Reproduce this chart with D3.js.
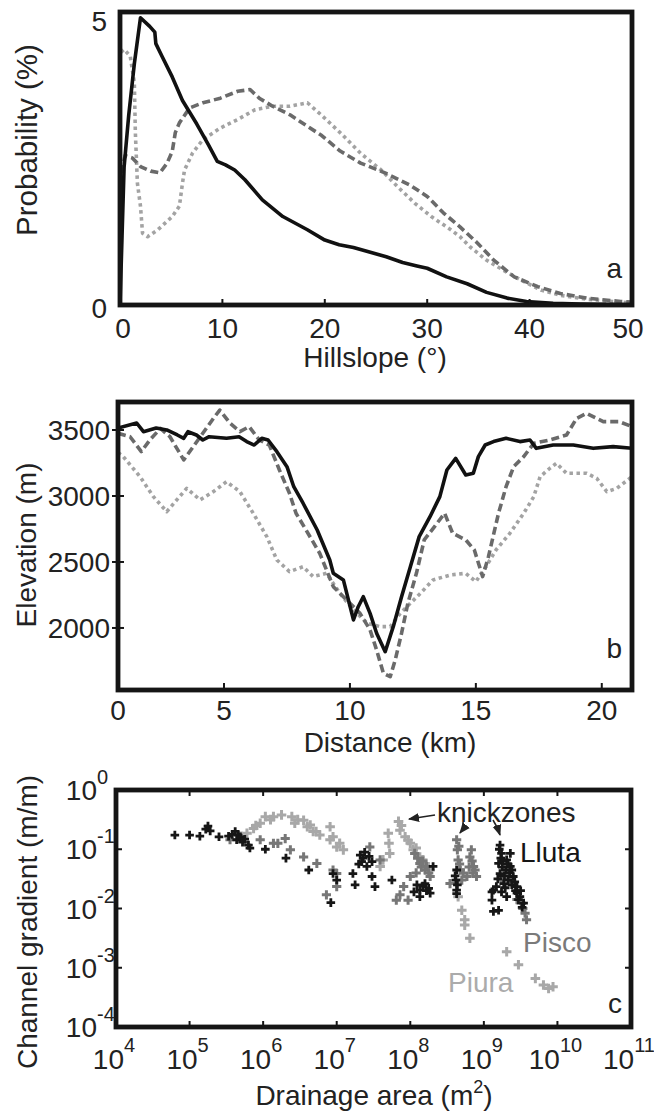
<!DOCTYPE html>
<html><head><meta charset="utf-8">
<script src="https://cdn.jsdelivr.net/npm/d3@7"></script>
<style>
body{margin:0;background:#fff}
svg{display:block}
text{font-family:"Liberation Sans",Arial,Helvetica,sans-serif;fill:#222}
</style>
</head><body>
<svg id="chart" width="654" height="1117"></svg>
<script>
// ---------- Panel a: hillslope distributions ----------
const hillTicks = [0, 10, 20, 30, 40, 50];
const probTicks = [0, 5];
const hillSolid = [[0,0],[0.2,1.2],[0.4,2.4],[0.85,3.3],[1.4,4.2],[2.0,5.0],[2.9,4.85],[3.4,4.75],[3.5,4.55],[4.1,4.33],[5.1,3.97],[6.1,3.56],[7.5,3.15],[8.6,2.8],[9.5,2.5],[10.3,2.44],[11.2,2.35],[12.2,2.18],[13.9,1.83],[15.9,1.54],[18.3,1.31],[20,1.13],[21.4,1.05],[22.8,1.0],[26,0.84],[27.6,0.74],[29,0.68],[30,0.64],[31.9,0.49],[33.9,0.37],[35.8,0.22],[37.8,0.12],[39.7,0.06],[42.3,0.03],[45,0.015],[50,0.005]];
const hillDashed = [[0.1,2.3],[0.5,2.6],[1.2,2.56],[2,2.41],[3,2.33],[3.9,2.3],[4.6,2.47],[5.1,2.67],[5.4,3.0],[5.8,3.17],[6.8,3.43],[8.1,3.52],[9.8,3.6],[11.5,3.72],[12.7,3.75],[13.6,3.6],[14.9,3.46],[16.6,3.31],[18.3,3.11],[19.7,2.95],[21.5,2.68],[23.5,2.47],[26,2.29],[28.3,2.09],[30,1.89],[31.6,1.6],[33.2,1.36],[34.9,1.08],[36.5,0.78],[38.5,0.49],[40.8,0.32],[43,0.2],[45.6,0.12],[48.9,0.06],[50,0.05]];
const hillDotted = [[0.1,4.4],[0.4,4.45],[1,4.33],[1.4,3.87],[1.5,3.0],[1.7,2.12],[2,1.72],[2.2,1.25],[2.7,1.19],[3.7,1.31],[5.1,1.54],[5.8,1.72],[6.1,2.12],[6.3,2.35],[7.1,2.65],[8.1,2.88],[9.8,3.08],[11.5,3.23],[13.2,3.4],[14.9,3.46],[16.6,3.46],[18.3,3.52],[19.7,3.3],[21.5,3.0],[23.5,2.64],[25.5,2.35],[27.1,2.06],[28.8,1.77],[30.4,1.54],[32.3,1.31],[33.2,1.19],[34.2,1.01],[35.8,0.78],[37.4,0.61],[39.1,0.44],[41.1,0.26],[43,0.17],[45.6,0.1],[48.9,0.05],[50,0.04]];

// ---------- Panel b: elevation profiles ----------
const distTicks = [0, 5, 10, 15, 20];
const elevTicks = [2000, 2500, 3000, 3500];
const profSolid = [[0,3515],[0.88,3553],[1.2,3487],[1.8,3515],[2.3,3500],[2.8,3462],[3.1,3437],[3.3,3487],[3.7,3462],[4.0,3424],[4.3,3449],[5.1,3437],[5.6,3449],[5.9,3412],[6.2,3386],[6.5,3437],[6.75,3424],[7.1,3336],[7.5,3222],[7.77,3070],[8.14,2945],[8.7,2742],[9.2,2515],[9.34,2414],[9.74,2364],[10.14,2061],[10.33,2161],[10.53,2237],[10.8,2111],[11.06,1960],[11.4,1820],[11.72,2010],[12.05,2237],[12.4,2464],[12.75,2692],[13.18,2843],[13.57,2995],[13.85,3197],[14.2,3285],[14.6,3159],[14.9,3172],[15.1,3298],[15.37,3386],[15.7,3412],[16.2,3437],[16.75,3412],[17.15,3424],[17.4,3361],[18.07,3386],[18.87,3386],[19.66,3361],[20.45,3374],[21.2,3361]];
const profDashed = [[0,3475],[0.57,3449],[1.1,3336],[1.5,3424],[2.0,3512],[2.45,3449],[3.1,3273],[3.55,3374],[4.0,3475],[4.5,3588],[4.8,3651],[5.24,3551],[5.63,3487],[6.0,3525],[6.4,3424],[6.8,3386],[7.2,3197],[7.6,3020],[7.86,2869],[8.26,2742],[8.8,2566],[9.34,2313],[9.87,2212],[10.4,2111],[10.8,1985],[11.06,1833],[11.33,1657],[11.6,1631],[11.8,1758],[12.05,1960],[12.3,2187],[12.64,2414],[12.95,2667],[13.36,2768],[13.76,2869],[14.08,2717],[14.6,2667],[14.94,2591],[15.27,2389],[15.5,2540],[15.9,2869],[16.2,3070],[16.5,3222],[16.9,3298],[17.3,3399],[17.94,3424],[18.6,3462],[19.0,3588],[19.4,3626],[20.06,3563],[20.7,3563],[21.2,3525]];
const profDotted = [[0,3330],[0.25,3298],[1.04,3146],[1.67,2995],[2.3,2881],[2.77,2970],[3.24,3058],[3.87,2970],[4.5,3033],[5.1,3108],[5.63,3033],[6.16,2869],[6.7,2692],[7.1,2515],[7.6,2427],[8.14,2464],[8.54,2389],[9.07,2414],[9.6,2263],[10.14,2136],[10.7,2035],[11.2,2010],[11.6,2010],[12.0,2111],[12.4,2187],[12.8,2263],[13.3,2364],[14.0,2402],[14.6,2414],[15.0,2351],[15.4,2464],[15.8,2591],[16.35,2717],[16.9,2869],[17.3,2995],[17.55,3146],[17.94,3210],[18.2,3248],[18.6,3172],[19.4,3172],[19.8,3134],[20.2,3033],[20.6,3058],[21.2,3146]];

// ---------- Panel c: slope-area (log10 area, log10 gradient) ----------
const areaExp = [4, 5, 6, 7, 8, 9, 10, 11];
const gradExp = [0, -1, -2, -3, -4];
const piuraPts = [[5.7,-0.78],[5.78,-0.73],[5.87,-0.65],[5.9,-0.6],[5.96,-0.56],[6.03,-0.45],[6.1,-0.5],[6.14,-0.45],[6.25,-0.42],[6.39,-0.45],[6.43,-0.56],[6.47,-0.5],[6.55,-0.51],[6.6,-0.62],[6.64,-0.59],[6.68,-0.70],[6.72,-0.7],[6.77,-0.76],[6.91,-0.62],[6.91,-0.84],[6.95,-0.79],[7.0,-0.96],[7.04,-0.9],[7.09,-1.01],[7.59,-1.29],[7.63,-1.18],[7.7,-0.73],[7.71,-0.9],[7.72,-1.07],[7.84,-0.53],[7.86,-0.68],[7.88,-0.6],[7.93,-0.79],[7.97,-0.85],[8.0,-0.9],[8.04,-1.01],[8.08,-0.98],[8.13,-1.13],[8.17,-1.18],[8.2,-1.24],[8.24,-1.3],[8.27,-1.35],[8.63,-1.58],[8.65,-1.8],[8.7,-2.03],[8.74,-2.19],[8.74,-2.28],[8.81,-2.5],[9.31,-2.73],[9.47,-2.95],[9.7,-3.18],[9.81,-3.29],[9.88,-3.35],[9.94,-3.32]];
const piscoPts = [[5.55,-0.84],[5.96,-0.84],[6.14,-0.9],[6.2,-0.9],[6.3,-0.82],[6.37,-1.01],[6.55,-1.13],[6.73,-1.24],[6.86,-1.77],[6.95,-1.35],[7.0,-1.41],[7.0,-1.63],[7.45,-0.96],[7.59,-1.18],[7.81,-1.86],[7.86,-1.77],[7.91,-1.63],[7.97,-1.86],[8.0,-1.46],[8.06,-1.07],[8.08,-1.4],[8.1,-1.15],[8.13,-1.24],[8.15,-1.3],[8.17,-1.2],[8.2,-1.35],[8.22,-1.29],[8.25,-1.4],[8.27,-1.46],[8.54,-1.58],[8.63,-0.84],[8.64,-1.01],[8.65,-1.18],[8.66,-0.95],[8.67,-1.25],[8.68,-1.35],[8.7,-1.52],[8.72,-1.4],[8.77,-1.46],[8.8,-1.3],[8.81,-1.13],[8.83,-1.01],[8.84,-1.2],[8.85,-1.4],[8.86,-1.29],[8.88,-1.35],[8.9,-1.46],[9.24,-1.52],[9.35,-1.5],[9.45,-1.85],[9.51,-1.91],[9.53,-2.0],[9.56,-2.08],[9.58,-2.19]];
const llutaPts = [[4.80,-0.76],[5.0,-0.76],[5.14,-0.78],[5.22,-0.66],[5.25,-0.61],[5.28,-0.69],[5.4,-0.79],[5.53,-0.78],[5.58,-0.75],[5.62,-0.70],[5.64,-0.84],[5.66,-0.76],[5.69,-0.79],[5.72,-0.88],[5.75,-0.83],[5.8,-0.93],[5.82,-0.98],[6.03,-1.0],[6.31,-1.15],[6.62,-1.35],[6.92,-1.9],[6.95,-1.41],[7.0,-1.52],[7.22,-1.41],[7.25,-1.6],[7.3,-1.25],[7.32,-1.1],[7.34,-1.21],[7.36,-1.15],[7.38,-1.05],[7.41,-1.29],[7.44,-1.12],[7.48,-1.21],[7.48,-1.46],[7.52,-1.63],[7.75,-1.52],[8.05,-1.72],[8.09,-1.6],[8.13,-1.69],[8.13,-1.8],[8.17,-1.62],[8.2,-1.58],[8.22,-1.7],[8.25,-1.66],[8.27,-1.74],[8.31,-1.29],[8.61,-1.45],[8.62,-1.52],[8.63,-1.35],[8.63,-1.69],[8.64,-1.6],[8.63,-1.75],[9.11,-1.72],[9.11,-1.86],[9.13,-1.69],[9.13,-2.05],[9.17,-1.63],[9.19,-1.5],[9.2,-1.24],[9.2,-2.03],[9.21,-1.0],[9.22,-0.93],[9.22,-1.41],[9.23,-1.15],[9.24,-1.07],[9.24,-1.72],[9.25,-1.3],[9.26,-1.2],[9.27,-1.58],[9.28,-1.45],[9.29,-1.65],[9.3,-1.35],[9.31,-1.18],[9.31,-1.8],[9.33,-1.25],[9.33,-1.52],[9.35,-1.4],[9.36,-1.07],[9.36,-1.29],[9.38,-1.35],[9.38,-1.6],[9.4,-1.46],[9.42,-1.55],[9.43,-1.7],[9.45,-1.63],[9.45,-1.74],[9.47,-1.85],[9.49,-1.8],[9.5,-1.7],[9.52,-1.98],[9.54,-1.91]];

const svg = d3.select("#chart");
const FS = 28;
const frameCol = "#151515";

function frame(x0, x1, y0, y1) {
  svg.append("rect").attr("x", x0).attr("y", y0).attr("width", x1 - x0).attr("height", y1 - y0)
    .attr("fill", "none").attr("stroke", frameCol).attr("stroke-width", 4.8);
}
function clip(id, x0, x1, y0, y1) {
  svg.append("clipPath").attr("id", id).append("rect")
    .attr("x", x0).attr("y", y0).attr("width", x1 - x0).attr("height", y1 - y0);
}
const styles = {
  solid: {stroke: "#111", dash: null, w: 3.6},
  dashed: {stroke: "#6a6a6a", dash: "8,4", w: 3.6},
  dotted: {stroke: "#a3a3a3", dash: "3.5,3.5", w: 3.6}
};
function drawLine(data, x, y, st, clipId) {
  const line = d3.line().x(d => x(d[0])).y(d => y(d[1]));
  svg.append("path").datum(data).attr("d", line).attr("fill", "none")
    .attr("stroke", st.stroke).attr("stroke-width", st.w)
    .attr("stroke-dasharray", st.dash).attr("stroke-linejoin", "round")
    .attr("clip-path", `url(#${clipId})`);
}

// ===== Panel a =====
{
  const x = d3.scaleLinear().domain([0, 50]).range([120, 632]);
  const y = d3.scaleLinear().domain([0, 5.1]).range([305, 12]);
  clip("ca", 120, 632, 12, 305);
  drawLine(hillDotted, x, y, styles.dotted, "ca");
  drawLine(hillDashed, x, y, styles.dashed, "ca");
  drawLine(hillSolid, x, y, styles.solid, "ca");
  frame(120, 632, 12, 305);
  hillTicks.slice(1, -1).forEach(t => svg.append("line").attr("x1", x(t)).attr("x2", x(t))
    .attr("y1", 305).attr("y2", 299).attr("stroke", frameCol).attr("stroke-width", 2));
  svg.append("g").selectAll("text").data(hillTicks).join("text")
    .attr("x", d => x(d) + (d === 0 ? 3 : d === 50 ? -4 : 0)).attr("y", 338)
    .attr("text-anchor", "middle").attr("font-size", FS).text(d => d);
  svg.append("g").selectAll("text").data(probTicks).join("text")
    .attr("x", 107).attr("y", d => y(d) + 13).attr("text-anchor", "end")
    .attr("font-size", FS).text(d => d);
  svg.append("text").attr("x", 375).attr("y", 367).attr("text-anchor", "middle")
    .attr("font-size", FS).text("Hillslope (°)");
  svg.append("text").attr("transform", "translate(37,140) rotate(-90)")
    .attr("text-anchor", "middle").attr("font-size", 29.5).text("Probability (%)");
  svg.append("text").attr("x", 622).attr("y", 278).attr("text-anchor", "end")
    .attr("font-size", FS).text("a");
}

// ===== Panel b =====
{
  const x = d3.scaleLinear().domain([0, 5, 21.2]).range([118, 224, 632]);
  const y = d3.scaleLinear().domain([1530, 3712]).range([690, 402]);
  clip("cb", 118, 632, 402, 690);
  drawLine(profDotted, x, y, styles.dotted, "cb");
  drawLine(profDashed, x, y, styles.dashed, "cb");
  drawLine(profSolid, x, y, styles.solid, "cb");
  frame(118, 632, 402, 690);
  distTicks.slice(1).forEach(t => svg.append("line").attr("x1", x(t)).attr("x2", x(t))
    .attr("y1", 690).attr("y2", 683).attr("stroke", frameCol).attr("stroke-width", 2));
  elevTicks.forEach(t => svg.append("line").attr("x1", 112).attr("x2", 124)
    .attr("y1", y(t)).attr("y2", y(t)).attr("stroke", frameCol).attr("stroke-width", 2));
  svg.append("g").selectAll("text").data(distTicks).join("text")
    .attr("x", d => x(d)).attr("y", 720).attr("text-anchor", "middle")
    .attr("font-size", FS).text(d => d);
  svg.append("g").selectAll("text").data(elevTicks).join("text")
    .attr("x", 110).attr("y", d => y(d) + 10).attr("text-anchor", "end")
    .attr("font-size", FS).text(d => d);
  svg.append("text").attr("x", 390).attr("y", 752).attr("text-anchor", "middle")
    .attr("font-size", FS).text("Distance (km)");
  svg.append("text").attr("transform", "translate(36,545) rotate(-90)")
    .attr("text-anchor", "middle").attr("font-size", FS).text("Elevation (m)");
  svg.append("text").attr("x", 622).attr("y", 658).attr("text-anchor", "end")
    .attr("font-size", FS).text("b");
}

// ===== Panel c =====
{
  const x = d3.scaleLog().domain([1e4, 1e11]).range([116, 631]);
  const y = d3.scaleLog().domain([1e-4, 1]).range([1027, 790]);
  clip("cc", 116, 631, 790, 1027);
  const plus = (r) => `M${-r},0H${r}M0,${-r}V${r}`;
  const sets = [
    {pts: piuraPts, col: "#a8a8a8", r: 4.8, w: 3.0},
    {pts: piscoPts, col: "#777777", r: 4.6, w: 3.0},
    {pts: llutaPts, col: "#161616", r: 4.3, w: 2.8}
  ];
  sets.forEach(s => {
    svg.append("g").attr("clip-path", "url(#cc)").selectAll("path").data(s.pts).join("path")
      .attr("transform", d => `translate(${x(Math.pow(10, d[0]))},${y(Math.pow(10, d[1]))})`)
      .attr("d", plus(s.r)).attr("stroke", s.col).attr("stroke-width", s.w).attr("fill", "none");
  });
  frame(116, 631, 790, 1027);
  areaExp.slice(1, -1).forEach(e => {
    const xx = x(Math.pow(10, e));
    svg.append("line").attr("x1", xx).attr("x2", xx).attr("y1", 1027).attr("y2", 1021).attr("stroke", frameCol).attr("stroke-width", 2);
    svg.append("line").attr("x1", xx).attr("x2", xx).attr("y1", 790).attr("y2", 796).attr("stroke", frameCol).attr("stroke-width", 2);
  });
  gradExp.slice(1, -1).forEach(e => {
    const yy = y(Math.pow(10, e));
    svg.append("line").attr("x1", 116).attr("x2", 122).attr("y1", yy).attr("y2", yy).attr("stroke", frameCol).attr("stroke-width", 2);
    svg.append("line").attr("x1", 631).attr("x2", 625).attr("y1", yy).attr("y2", yy).attr("stroke", frameCol).attr("stroke-width", 2);
  });
  // x tick labels
  areaExp.forEach(e => {
    const t = svg.append("text").attr("x", x(Math.pow(10, e)) - 2).attr("y", 1069)
      .attr("text-anchor", "middle").attr("font-size", FS);
    t.append("tspan").text("10");
    t.append("tspan").attr("font-size", 20).attr("dy", -17).text(e);
  });
  // y tick labels
  gradExp.forEach(e => {
    const yy = y(Math.pow(10, e));
    svg.append("text").attr("x", 97).attr("y", yy + 10).attr("text-anchor", "end")
      .attr("font-size", FS).text("10");
    svg.append("text").attr("x", 97).attr("y", yy - 6).attr("text-anchor", "start")
      .attr("font-size", 20).text(e);
  });
  const xl = svg.append("text").attr("x", 374).attr("y", 1105).attr("text-anchor", "middle").attr("font-size", FS);
  xl.append("tspan").text("Drainage area (m");
  xl.append("tspan").attr("font-size", 18).attr("dy", -12).text("2");
  xl.append("tspan").attr("dy", 12).text(")");
  svg.append("text").attr("transform", "translate(37,922) rotate(-90)")
    .attr("text-anchor", "middle").attr("font-size", FS).text("Channel gradient (m/m)");
  svg.append("text").attr("x", 622).attr("y", 1013).attr("text-anchor", "end").attr("font-size", FS).text("c");
  svg.append("text").attr("x", 520).attr("y", 862).attr("font-size", FS).style("fill", "#151515").text("Lluta");
  svg.append("text").attr("x", 523).attr("y", 952).attr("font-size", FS).style("fill", "#7a7a7a").text("Pisco");
  svg.append("text").attr("x", 448).attr("y", 992).attr("font-size", FS).style("fill", "#ababab").text("Piura");
  svg.append("text").attr("x", 437).attr("y", 822).attr("font-size", FS).text("knickzones");
  // arrows
  const defs = svg.append("defs");
  defs.append("marker").attr("id", "ah").attr("viewBox", "0 0 10 10").attr("refX", 9).attr("refY", 5)
    .attr("markerWidth", 7).attr("markerHeight", 7).attr("orient", "auto-start-reverse")
    .append("path").attr("d", "M0,1L10,5L0,9Z").attr("fill", "#222");
  const arrows = ["M435,815 L409,819", "M463,822 Q464,828 460,833", "M493,820 Q497,826 500,835"];
  arrows.forEach(d => svg.append("path").attr("d", d).attr("fill", "none").attr("stroke", "#222")
    .attr("stroke-width", 1.6).attr("marker-end", "url(#ah)"));
}
</script>
</body></html>
